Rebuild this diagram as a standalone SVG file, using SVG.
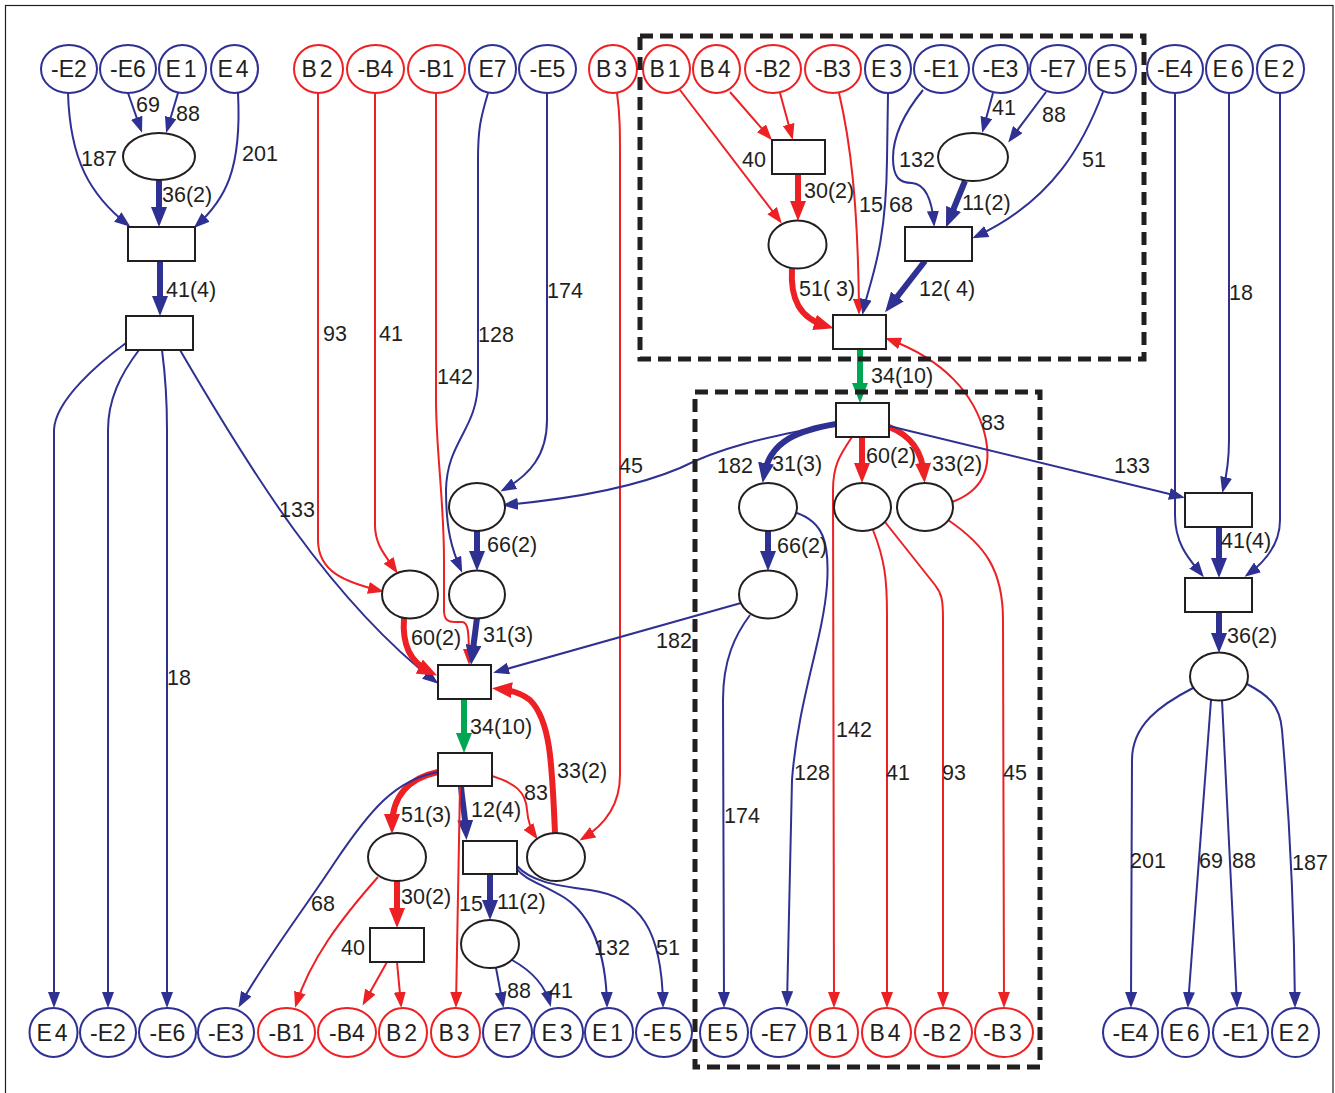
<svg xmlns="http://www.w3.org/2000/svg" width="1335" height="1093" viewBox="0 0 1335 1093">
<defs>
<style>
.nb{fill:#fff;stroke:#2e3192;stroke-width:2}
.nr{fill:#fff;stroke:#ed2024;stroke-width:2}
.nk{fill:#fff;stroke:#231f20;stroke-width:2}
.t{font-family:"Liberation Sans",Arial,sans-serif;font-size:23px;fill:#231f20;text-anchor:middle}
.l{font-family:"Liberation Sans",Arial,sans-serif;font-size:21.5px;fill:#231f20}
.b{fill:none;stroke:#2e3192;stroke-width:2;marker-end:url(#ab)}
.r{fill:none;stroke:#ed2024;stroke-width:2;marker-end:url(#ar)}
.B{fill:none;stroke:#2e3192;stroke-width:6;marker-end:url(#aB)}
.R{fill:none;stroke:#ed2024;stroke-width:6;marker-end:url(#aR)}
.G{fill:none;stroke:#00a651;stroke-width:6;marker-end:url(#aG)}
.box{fill:none;stroke:#231f20;stroke-width:5;stroke-dasharray:13 7}
</style>
<marker id="ab" markerUnits="userSpaceOnUse" markerWidth="16" markerHeight="12" refX="13" refY="6" orient="auto" viewBox="0 0 16 12"><path d="M0,0L16,6L0,12z" fill="#2e3192"/></marker>
<marker id="ar" markerUnits="userSpaceOnUse" markerWidth="16" markerHeight="12" refX="13" refY="6" orient="auto" viewBox="0 0 16 12"><path d="M0,0L16,6L0,12z" fill="#ed2024"/></marker>
<marker id="aB" markerUnits="userSpaceOnUse" markerWidth="20" markerHeight="16" refX="12" refY="8" orient="auto" viewBox="0 0 20 16"><path d="M0,0L20,8L0,16z" fill="#2e3192"/></marker>
<marker id="aR" markerUnits="userSpaceOnUse" markerWidth="20" markerHeight="16" refX="12" refY="8" orient="auto" viewBox="0 0 20 16"><path d="M0,0L20,8L0,16z" fill="#ed2024"/></marker>
<marker id="aG" markerUnits="userSpaceOnUse" markerWidth="20" markerHeight="16" refX="12" refY="8" orient="auto" viewBox="0 0 20 16"><path d="M0,0L20,8L0,16z" fill="#00a651"/></marker>
</defs>
<rect x="0" y="0" width="1335" height="1093" fill="#fff"/>
<rect x="5.5" y="5.5" width="1327.5" height="1100" fill="none" stroke="#231f20" stroke-width="1.2"/>

<g id="connectors">
<path class="b" d="M128,93 L141,130"/>
<path class="b" d="M178,93 L167,130"/>
<path class="b" d="M68,93 C70,160 90,195 128,225"/>
<path class="b" d="M238,93 C242,170 225,200 196,226"/>
<path class="B" d="M159,180 L159,219"/>
<path class="B" d="M160,261 L160,308"/>
<path class="b" d="M126,343 C100,362 55,400 54,430 L54,1005"/>
<path class="b" d="M139,350 C120,375 108,400 108,430 L108,1005"/>
<path class="b" d="M162,350 C166,380 167,400 167,430 L167,1005"/>
<path class="b" d="M180,350 C250,470 330,600 436,682"/>
<path class="b" d="M547,93 L547,420 C547,455 530,475 503,490"/>
<path class="b" d="M488,93 C480,120 478,130 478,160 L478,380 C478,430 447,440 446,490 C446,530 452,550 461,570"/>
<path class="r" d="M436,93 L436,400 C436,450 444,500 444,560 L444,610 C444,620 448,622 455,622 L462,622 C468,622 469,630 469,662"/>
<path class="r" d="M318,93 L318,540 C318,572 345,582 381,591"/>
<path class="r" d="M375,93 L375,525 C375,545 385,555 396,571"/>
<path class="r" d="M617,93 C620,115 620,130 620,160 L620,775 C620,805 605,825 582,839"/>
<path class="B" d="M477,531 L477,563"/>
<path class="B" d="M477,618 L472,657"/>
<path class="R" d="M404,618 C402,645 410,662 430,672"/>
<path class="b" d="M836,424 C760,438 720,448 680,468 C640,485 580,498 505,505"/>
<path class="b" d="M741,603 L496,672"/>
<path class="R" d="M555,833 C552,760 550,720 530,700 C520,692 510,690 500,689"/>
<path class="G" d="M464,699 L464,745"/>
<path class="R" d="M438,772 C410,778 392,795 392,826"/>
<path class="b" d="M438,772 C395,780 370,810 335,862 C300,915 265,960 240,1005"/>
<path class="B" d="M461,786 C462,800 465,815 466,832"/>
<path class="r" d="M460,786 L456,1005"/>
<path class="r" d="M492,776 C515,783 526,792 527,810 C528,822 531,830 536,837"/>
<path class="R" d="M397,881 L397,920"/>
<path class="r" d="M378,877 C340,920 310,960 296,1005"/>
<path class="r" d="M387,962 L364,1003"/>
<path class="r" d="M397,962 L401,1005"/>
<path class="B" d="M490,874 L490,912"/>
<path class="b" d="M516,868 C525,880 540,883 565,898 C590,915 606,950 607,1005"/>
<path class="b" d="M517,866 C530,880 550,885 590,890 C640,897 662,930 663,1005"/>
<path class="b" d="M496,968 L503,1005"/>
<path class="b" d="M512,960 C530,970 545,985 550,1004"/>
<path class="r" d="M680,90 L780,221"/>
<path class="r" d="M730,92 L770,138"/>
<path class="r" d="M780,93 L792,137"/>
<path class="R" d="M798,174 L798,213"/>
<path class="R" d="M792,268 C790,300 800,318 826,326"/>
<path class="r" d="M839,93 C850,140 858,200 859,312"/>
<path class="b" d="M888,93 L887,160 C886,250 870,280 863,312"/>
<path class="b" d="M923,90 C905,112 893,135 893,158 C893,178 900,183 912,183 C925,184 932,200 934,224"/>
<path class="b" d="M993,93 L983,130"/>
<path class="b" d="M1046,92 L1010,140"/>
<path class="b" d="M1103,92 C1085,140 1055,200 975,237"/>
<path class="B" d="M965,181 L949,220"/>
<path class="B" d="M925,261 L890,306"/>
<path class="r" d="M952,502 C985,490 992,465 985,435 C975,395 945,360 888,339"/>
<path class="G" d="M860,349 L860,395"/>
<path class="B" d="M836,424 C800,430 770,440 764,475"/>
<path class="R" d="M862,437 L862,475"/>
<path class="R" d="M889,427 C910,435 922,450 924,475"/>
<path class="b" d="M889,426 L1182,497"/>
<path class="r" d="M852,437 C840,455 833,465 833,490 L834,1005"/>
<path class="B" d="M768,531 L768,563"/>
<path class="b" d="M797,513 C822,522 830,540 827,585 C823,640 798,700 792,780 L787,1004"/>
<path class="b" d="M750,615 C735,635 723,660 723,700 L724,1005"/>
<path class="r" d="M873,530 C885,560 887,580 887,615 L887,1005"/>
<path class="r" d="M885,522 L935,585 C942,594 943,600 943,620 L943,1005"/>
<path class="r" d="M948,520 C985,545 1003,570 1003,620 L1004,1005"/>
<path class="b" d="M1229,93 L1229,440 C1229,465 1226,478 1223,490"/>
<path class="b" d="M1175,93 L1175,515 C1175,545 1190,560 1202,575"/>
<path class="b" d="M1280,93 L1280,520 C1280,545 1265,562 1247,575"/>
<path class="B" d="M1219,527 L1219,570"/>
<path class="B" d="M1219,612 L1219,645"/>
<path class="b" d="M1193,688 C1160,705 1132,725 1132,760 L1131,1005"/>
<path class="b" d="M1211,700 L1188,1005"/>
<path class="b" d="M1222,700 L1237,1005"/>
<path class="b" d="M1247,684 C1268,695 1280,705 1282,730 C1288,800 1294,900 1295,1005"/>
</g>

<g id="edge-labels">
<text class="l" x="136" y="112">69</text>
<text class="l" x="176" y="121">88</text>
<text class="l" x="81" y="166">187</text>
<text class="l" x="242" y="161">201</text>
<text class="l" x="162" y="202">36(2)</text>
<text class="l" x="166" y="297">41(4)</text>
<text class="l" x="167" y="685">18</text>
<text class="l" x="279" y="517">133</text>
<text class="l" x="323" y="341">93</text>
<text class="l" x="379" y="341">41</text>
<text class="l" x="478" y="342">128</text>
<text class="l" x="547" y="298">174</text>
<text class="l" x="437" y="384">142</text>
<text class="l" x="619" y="473">45</text>
<text class="l" x="487" y="552">66(2)</text>
<text class="l" x="483" y="642">31(3)</text>
<text class="l" x="411" y="645">60(2)</text>
<text class="l" x="656" y="648">182</text>
<text class="l" x="470" y="734">34(10)</text>
<text class="l" x="557" y="778">33(2)</text>
<text class="l" x="401" y="822">51(3)</text>
<text class="l" x="471" y="817">12(4)</text>
<text class="l" x="524" y="800">83</text>
<text class="l" x="401" y="904">30(2)</text>
<text class="l" x="459" y="911">15</text>
<text class="l" x="497" y="909">11(2)</text>
<text class="l" x="341" y="955">40</text>
<text class="l" x="311" y="911">68</text>
<text class="l" x="594" y="955">132</text>
<text class="l" x="656" y="955">51</text>
<text class="l" x="507" y="998">88</text>
<text class="l" x="549" y="998">41</text>
<text class="l" x="742" y="167">40</text>
<text class="l" x="804" y="198">30(2)</text>
<text class="l" x="859" y="212">15</text>
<text class="l" x="889" y="212">68</text>
<text class="l" x="899" y="167">132</text>
<text class="l" x="992" y="115">41</text>
<text class="l" x="1042" y="122">88</text>
<text class="l" x="1082" y="167">51</text>
<text class="l" x="962" y="210">11(2)</text>
<text class="l" x="799" y="296">51( 3)</text>
<text class="l" x="919" y="296">12( 4)</text>
<text class="l" x="871" y="383">34(10)</text>
<text class="l" x="981" y="430">83</text>
<text class="l" x="717" y="473">182</text>
<text class="l" x="772" y="471">31(3)</text>
<text class="l" x="866" y="463">60(2)</text>
<text class="l" x="932" y="471">33(2)</text>
<text class="l" x="1114" y="473">133</text>
<text class="l" x="777" y="553">66(2)</text>
<text class="l" x="836" y="737">142</text>
<text class="l" x="794" y="780">128</text>
<text class="l" x="886" y="780">41</text>
<text class="l" x="942" y="780">93</text>
<text class="l" x="1003" y="780">45</text>
<text class="l" x="724" y="823">174</text>
<text class="l" x="1229" y="300">18</text>
<text class="l" x="1221" y="548">41(4)</text>
<text class="l" x="1227" y="643">36(2)</text>
<text class="l" x="1130" y="868">201</text>
<text class="l" x="1199" y="868">69</text>
<text class="l" x="1232" y="868">88</text>
<text class="l" x="1292" y="870">187</text>
</g>

<g id="t-mE2"><ellipse class="nb" cx="69" cy="69" rx="28" ry="24"/><text class="t" x="69" y="77">-E2</text></g>
<g id="t-mE6"><ellipse class="nb" cx="128" cy="69" rx="28" ry="24"/><text class="t" x="128" y="77">-E6</text></g>
<g id="t-E1"><ellipse class="nb" cx="182.5" cy="69" rx="23.5" ry="24"/><text class="t" x="181" y="77">E<tspan dx="3">1</tspan></text></g>
<g id="t-E4"><ellipse class="nb" cx="234.5" cy="69" rx="23.5" ry="24"/><text class="t" x="233" y="77">E<tspan dx="3">4</tspan></text></g>
<g id="t-B2"><ellipse class="nr" cx="318.5" cy="69" rx="24.5" ry="24"/><text class="t" x="317" y="77">B<tspan dx="3">2</tspan></text></g>
<g id="t-mB4"><ellipse class="nr" cx="375.5" cy="69" rx="28.5" ry="24"/><text class="t" x="375.5" y="77">-B4</text></g>
<g id="t-mB1"><ellipse class="nr" cx="436.5" cy="69" rx="28.5" ry="24"/><text class="t" x="436.5" y="77">-B1</text></g>
<g id="t-E7"><ellipse class="nb" cx="492.5" cy="69" rx="23.5" ry="24"/><text class="t" x="492.5" y="77">E7</text></g>
<g id="t-mE5"><ellipse class="nb" cx="547.5" cy="69" rx="28.5" ry="24"/><text class="t" x="547.5" y="77">-E5</text></g>
<g id="t-B3"><ellipse class="nr" cx="613" cy="69" rx="24" ry="24"/><text class="t" x="611.5" y="77">B<tspan dx="3">3</tspan></text></g>
<g id="t-B1"><ellipse class="nr" cx="666.5" cy="69" rx="23.5" ry="24"/><text class="t" x="665" y="77">B<tspan dx="3">1</tspan></text></g>
<g id="t-B4"><ellipse class="nr" cx="716.5" cy="69" rx="23.5" ry="24"/><text class="t" x="715" y="77">B<tspan dx="3">4</tspan></text></g>
<g id="t-mB2"><ellipse class="nr" cx="773" cy="69" rx="28" ry="24"/><text class="t" x="773" y="77">-B2</text></g>
<g id="t-mB3"><ellipse class="nr" cx="833" cy="69" rx="28" ry="24"/><text class="t" x="833" y="77">-B3</text></g>
<g id="t-E3"><ellipse class="nb" cx="888" cy="69" rx="23" ry="24"/><text class="t" x="886.5" y="77">E<tspan dx="3">3</tspan></text></g>
<g id="t-mE1"><ellipse class="nb" cx="941.5" cy="69" rx="27.5" ry="24"/><text class="t" x="941.5" y="77">-E1</text></g>
<g id="t-mE3"><ellipse class="nb" cx="1000.5" cy="69" rx="27.5" ry="24"/><text class="t" x="1000.5" y="77">-E3</text></g>
<g id="t-mE7"><ellipse class="nb" cx="1058" cy="69" rx="28" ry="24"/><text class="t" x="1058" y="77">-E7</text></g>
<g id="t-E5"><ellipse class="nb" cx="1112.5" cy="69" rx="23.5" ry="24"/><text class="t" x="1111" y="77">E<tspan dx="3">5</tspan></text></g>
<g id="t-mE4"><ellipse class="nb" cx="1175" cy="69" rx="28" ry="24"/><text class="t" x="1175" y="77">-E4</text></g>
<g id="t-E6"><ellipse class="nb" cx="1229.5" cy="69" rx="23.5" ry="24"/><text class="t" x="1228" y="77">E<tspan dx="3">6</tspan></text></g>
<g id="t-E2"><ellipse class="nb" cx="1280.5" cy="69" rx="23.5" ry="24"/><text class="t" x="1279" y="77">E<tspan dx="3">2</tspan></text></g>

<g id="b-E4"><ellipse class="nb" cx="53.5" cy="1032.5" rx="24" ry="24.5"/><text class="t" x="52" y="1041">E<tspan dx="3">4</tspan></text></g>
<g id="b-mE2"><ellipse class="nb" cx="108" cy="1032.5" rx="28" ry="24.5"/><text class="t" x="108" y="1041">-E2</text></g>
<g id="b-mE6"><ellipse class="nb" cx="167.5" cy="1032.5" rx="28.5" ry="24.5"/><text class="t" x="167.5" y="1041">-E6</text></g>
<g id="b-mE3"><ellipse class="nb" cx="226" cy="1032.5" rx="28" ry="24.5"/><text class="t" x="226" y="1041">-E3</text></g>
<g id="b-mB1"><ellipse class="nr" cx="286.5" cy="1032.5" rx="28.5" ry="24.5"/><text class="t" x="286.5" y="1041">-B1</text></g>
<g id="b-mB4"><ellipse class="nr" cx="347" cy="1032.5" rx="29" ry="24.5"/><text class="t" x="347" y="1041">-B4</text></g>
<g id="b-B2"><ellipse class="nr" cx="403" cy="1032.5" rx="24" ry="24.5"/><text class="t" x="401.5" y="1041">B<tspan dx="3">2</tspan></text></g>
<g id="b-B3"><ellipse class="nr" cx="455.5" cy="1032.5" rx="24.5" ry="24.5"/><text class="t" x="454" y="1041">B<tspan dx="3">3</tspan></text></g>
<g id="b-E7"><ellipse class="nb" cx="507.5" cy="1032.5" rx="24.5" ry="24.5"/><text class="t" x="507.5" y="1041">E7</text></g>
<g id="b-E3"><ellipse class="nb" cx="558.5" cy="1032.5" rx="24.5" ry="24.5"/><text class="t" x="557" y="1041">E<tspan dx="3">3</tspan></text></g>
<g id="b-E1"><ellipse class="nb" cx="609" cy="1032.5" rx="24" ry="24.5"/><text class="t" x="607.5" y="1041">E<tspan dx="3">1</tspan></text></g>
<g id="b-mE5"><ellipse class="nb" cx="664" cy="1032.5" rx="28" ry="24.5"/><text class="t" x="662.5" y="1041">-E<tspan dx="3">5</tspan></text></g>
<g id="b-E5"><ellipse class="nb" cx="724" cy="1032.5" rx="24" ry="24.5"/><text class="t" x="722.5" y="1041">E<tspan dx="3">5</tspan></text></g>
<g id="b-mE7"><ellipse class="nb" cx="779" cy="1032.5" rx="28" ry="24.5"/><text class="t" x="779" y="1041">-E7</text></g>
<g id="b-B1"><ellipse class="nr" cx="834" cy="1032.5" rx="24" ry="24.5"/><text class="t" x="832.5" y="1041">B<tspan dx="3">1</tspan></text></g>
<g id="b-B4"><ellipse class="nr" cx="886.5" cy="1032.5" rx="24.5" ry="24.5"/><text class="t" x="885" y="1041">B<tspan dx="3">4</tspan></text></g>
<g id="b-mB2"><ellipse class="nr" cx="943.5" cy="1032.5" rx="28.5" ry="24.5"/><text class="t" x="942" y="1041">-B<tspan dx="3">2</tspan></text></g>
<g id="b-mB3"><ellipse class="nr" cx="1004" cy="1032.5" rx="29" ry="24.5"/><text class="t" x="1002.5" y="1041">-B<tspan dx="3">3</tspan></text></g>
<g id="b-mE4"><ellipse class="nb" cx="1130.5" cy="1032.5" rx="27.5" ry="24.5"/><text class="t" x="1130.5" y="1041">-E4</text></g>
<g id="b-E6"><ellipse class="nb" cx="1185.5" cy="1032.5" rx="23.5" ry="24.5"/><text class="t" x="1184" y="1041">E<tspan dx="3">6</tspan></text></g>
<g id="b-mE1"><ellipse class="nb" cx="1240.5" cy="1032.5" rx="27.5" ry="24.5"/><text class="t" x="1240.5" y="1041">-E1</text></g>
<g id="b-E2"><ellipse class="nb" cx="1295.5" cy="1032.5" rx="23.5" ry="24.5"/><text class="t" x="1294" y="1041">E<tspan dx="3">2</tspan></text></g>

<g id="n-tl-ell"><ellipse class="nk" cx="159" cy="156.5" rx="36" ry="23.5"/></g>
<g id="n-tl-r1"><rect class="nk" x="128" y="227" width="67" height="34"/></g>
<g id="n-tl-r2"><rect class="nk" x="126" y="316" width="67" height="34"/></g>
<g id="n-c-a"><ellipse class="nk" cx="477" cy="507" rx="28" ry="24"/></g>
<g id="n-c-b"><ellipse class="nk" cx="477" cy="594.5" rx="28" ry="24"/></g>
<g id="n-c-c"><ellipse class="nk" cx="410" cy="594.5" rx="28" ry="24"/></g>
<g id="n-c-rect"><rect class="nk" x="438" y="665" width="53" height="34"/></g>
<g id="n-bm-d"><rect class="nk" x="438" y="753" width="54" height="33"/></g>
<g id="n-bm-e"><ellipse class="nk" cx="397" cy="857" rx="29" ry="24"/></g>
<g id="n-bm-f"><rect class="nk" x="463" y="841" width="54" height="33"/></g>
<g id="n-bm-g"><ellipse class="nk" cx="556" cy="857" rx="29" ry="24"/></g>
<g id="n-bm-h"><rect class="nk" x="370" y="928" width="54" height="34"/></g>
<g id="n-bm-i"><ellipse class="nk" cx="490" cy="944" rx="29" ry="24"/></g>
<g id="n-tr-j"><rect class="nk" x="772" y="140" width="53" height="34"/></g>
<g id="n-tr-k"><ellipse class="nk" cx="797.5" cy="244.5" rx="29" ry="24"/></g>
<g id="n-tr-l"><ellipse class="nk" cx="973" cy="157" rx="35" ry="24"/></g>
<g id="n-tr-m"><rect class="nk" x="905" y="227" width="67" height="34"/></g>
<g id="n-tr-n"><rect class="nk" x="833" y="315" width="53" height="34"/></g>
<g id="n-lb-o"><rect class="nk" x="836" y="403" width="53" height="34"/></g>
<g id="n-lb-p"><ellipse class="nk" cx="768" cy="507" rx="29" ry="24"/></g>
<g id="n-lb-q"><ellipse class="nk" cx="862.5" cy="507" rx="28.5" ry="24"/></g>
<g id="n-lb-r"><ellipse class="nk" cx="925" cy="507" rx="28" ry="24"/></g>
<g id="n-lb-s"><ellipse class="nk" cx="768" cy="594.5" rx="29" ry="24"/></g>
<g id="n-rt-t"><rect class="nk" x="1185" y="493" width="67" height="34"/></g>
<g id="n-rt-u"><rect class="nk" x="1185" y="578" width="67" height="34"/></g>
<g id="n-rt-v"><ellipse class="nk" cx="1219" cy="676.5" rx="29" ry="24"/></g>

<g id="groups">
<rect class="box" x="640" y="36" width="504" height="323"/>
<rect class="box" x="695" y="392" width="345" height="675"/>
</g>
</svg>
